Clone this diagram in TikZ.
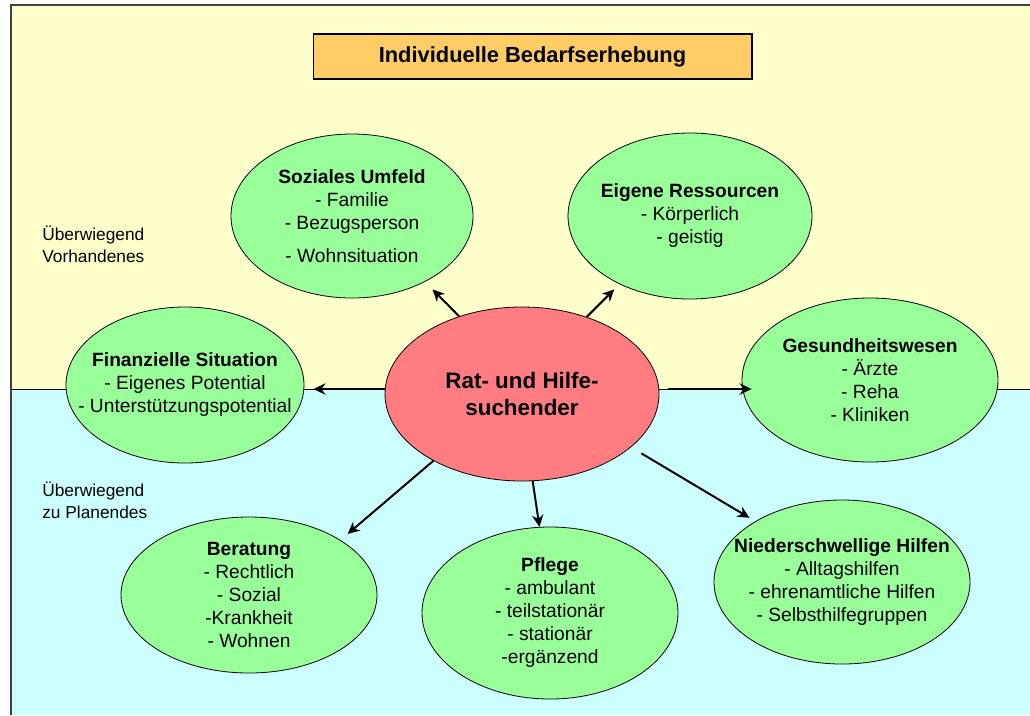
\documentclass[tikz,border=0pt]{standalone}
\usepackage{fontspec}
\setmainfont{Liberation Sans}
\usepackage{tikz}
\usetikzlibrary{arrows.meta,shapes}
\definecolor{bgyellow}{HTML}{FFFFCC}
\definecolor{bgcyan}{HTML}{CCFFFF}
\definecolor{bubblegreen}{HTML}{99FF99}
\definecolor{centerred}{HTML}{FF7C80}
\definecolor{titleorange}{HTML}{FFCC66}
\tikzstyle{bubblestyle}=[ellipse, draw, line width=0.6pt, fill=bubblegreen,
inner sep=-40pt, align=center, font=\fontsize{14.4}{17.25}\selectfont]
\tikzstyle{arrowstyle}=[->, >={Stealth[length=9pt,width=8.5pt]}, line width=1.5pt]
\tikzstyle{sidestyle}=[anchor=west, align=left, inner sep=0pt,
font=\fontsize{13}{16.5}\selectfont]

\begin{document}
\begin{tikzpicture}[x=0.75pt,y=-0.75pt]
\useasboundingbox (0,0) rectangle (1030,715);

% Background
\fill[bgyellow] (11,5) rectangle (1030,389);
\fill[bgcyan] (11,389) rectangle (1030,715);
\draw[line width=0.75pt] (11,389) -- (1030,389);
\draw[line width=1.2pt, black!75] (11,715) -- (11,5) -- (1030,5);

% Title
\node[draw, line width=1pt, fill=titleorange, inner sep=0pt, minimum width=329pt,
	minimum height=33.75pt, font=\bfseries\fontsize{16.4}{20}\selectfont]
	(title) at (532.5,56.5) {Individuelle Bedarfserhebung};

% Side texts
\node[sidestyle] (present) at (42,244) {Überwiegend\\Vorhandenes};
\node[sidestyle] (planned) at (42,500.5) {Überwiegend\\zu Planendes};

% Center
\node[bubblestyle, fill=centerred, minimum width=205.5pt, minimum height=130.5pt,
	font=\bfseries\fontsize{16.8}{20.5}\selectfont]
	(rat) at (522,394) {Rat- und Hilfe-\\suchender};

% Upper bubbles
\node[bubblestyle, minimum width=181.5pt, minimum height=123pt] (soz) at (352,216)
	{\textbf{Soziales Umfeld}\\- Familie\\- Bezugsperson\\[7.5pt]- Wohnsituation};
\node[bubblestyle, minimum width=183pt, minimum height=124.5pt] (eig) at (690,216)
	{\textbf{Eigene Ressourcen}\\- Körperlich\\- geistig};
\node[bubblestyle, minimum width=178.5pt, minimum height=117pt] (fin) at (185,385)
	{\textbf{Finanzielle Situation}\\- Eigenes Potential\\- Unterstützungspotential};
\node[bubblestyle, minimum width=192pt, minimum height=123pt] (ges) at (870,380)
	{\textbf{Gesundheitswesen}\\- Ärzte\\- Reha\\- Kliniken};

% Lower bubbles
\node[bubblestyle, minimum width=192pt, minimum height=117pt] (ber) at (249,595)
	{\textbf{Beratung}\\- Rechtlich\\- Sozial\\-Krankheit\\- Wohnen};
\node[bubblestyle, minimum width=192pt, minimum height=129pt] (pfl) at (550,613)
	{\textbf{Pflege}\\- ambulant\\- teilstationär\\- stationär\\-ergänzend};
\node[bubblestyle, minimum width=192pt, minimum height=123pt] (nie) at (842,582)
	{\textbf{Niederschwellige Hilfen}\\- Alltagshilfen\\- ehrenamtliche Hilfen\\- Selbsthilfegruppen};

% Arrows
\coordinate (left) at ([yshift=3.75pt]rat.west);
\coordinate (right) at ([yshift=3.75pt]rat.east);
\draw[arrowstyle, shorten >=8pt] (rat.129) -- (soz.-42);
\draw[arrowstyle, shorten >=5.5pt] (rat.50) -- (eig.-136);
\draw[arrowstyle, shorten >=6.75pt] (left) -- (left -| fin.east);
\draw[arrowstyle, shorten <=6.75pt, shorten >=-7.5pt] (right) -- (right -| ges.west);
\draw[arrowstyle, shorten >=7pt] (rat.217) -- (ber.31);
\draw[arrowstyle] (rat.-83) -- (pfl.97);
\draw[arrowstyle, shorten <=9pt, shorten >=5pt] (rat.-26) -- (nie.145);

\end{tikzpicture}
\end{document}
